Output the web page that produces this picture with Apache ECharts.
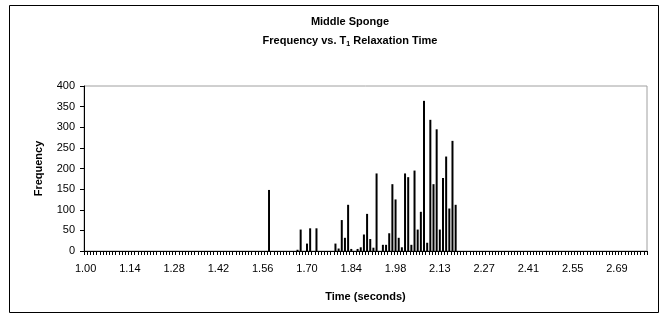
<!DOCTYPE html>
<html>
<head>
<meta charset="utf-8">
<script src="https://cdn.jsdelivr.net/npm/echarts@6/dist/echarts.min.js"></script>
<style>
  html, body { margin: 0; padding: 0; background: #fff; }
  #chart { width: 665px; height: 320px; }
</style>
</head>
<body>
<div id="chart"></div>
<script>
// bins of T1 relaxation time (s); a label is shown on every 14th bin
const binCount = 178;
const binStart = 1.0;
const binStep = 0.010048;
const timeBins = [];
for (let i = 0; i < binCount; i++) timeBins.push((binStart + i * binStep).toFixed(2));

// frequency per bin (non-zero bins only)
const peakBins = [58, 67, 68, 70, 71, 73,
  79, 80, 81, 82, 83, 84,
  86, 87, 88, 89, 90, 91, 92,
  94, 95,
  96, 97, 98, 99, 100, 101, 102, 103, 104, 105, 106,
  107, 108, 109, 110, 111, 112, 113, 114, 115, 116, 117];
const peakFreq = [148, 3, 52, 18, 55, 55,
  18, 6, 75, 32, 112, 5,
  5, 9, 40, 90, 29, 8, 188,
  15, 15,
  43, 162, 125, 32, 9, 188, 179, 15, 195, 52, 95,
  364, 20, 318, 162, 295, 52, 177, 229, 103, 267, 112];

const yTicks = { min: 0, max: 400, step: 50 };

const freq = timeBins.map(() => 0);
peakBins.forEach((b, k) => { freq[b] = peakFreq[k]; });

const chart = echarts.init(document.getElementById('chart'));
const font = 'Liberation Sans, Arial, sans-serif';

chart.setOption({
  animation: false,
  graphic: [
    {
      type: 'rect',
      shape: { x: 9.5, y: 5.5, width: 649, height: 307 },
      style: { fill: 'none', stroke: '#000', lineWidth: 1 },
      silent: true
    },
    {
      type: 'text',
      x: 350, y: 22,
      style: {
        text: 'Middle Sponge',
        font: 'bold 11px ' + font,
        fill: '#000',
        align: 'center',
        verticalAlign: 'middle'
      },
      silent: true
    },
    {
      type: 'text',
      x: 350, y: 41,
      style: {
        text: '{b|Frequency vs. T}{s|1}{b| Relaxation Time}',
        align: 'center',
        verticalAlign: 'middle',
        rich: {
          b: { font: 'bold 11px ' + font, fill: '#000', lineHeight: 14 },
          s: { font: 'bold 7px ' + font, fill: '#000', lineHeight: 14, verticalAlign: 'bottom', padding: [5, 0, 0, 0] }
        }
      },
      silent: true
    }
  ],
  grid: {
    left: 84, right: 18, top: 86, bottom: 69,
    show: true, borderColor: '#a0a0a0', borderWidth: 1
  },
  xAxis: {
    type: 'category',
    data: timeBins,
    name: 'Time (seconds)',
    nameLocation: 'middle',
    nameGap: 40,
    nameTextStyle: { fontFamily: font, fontSize: 11, fontWeight: 'bold', color: '#000' },
    axisLine: { lineStyle: { color: '#000', width: 1 } },
    axisTick: { show: true, interval: 0, length: 4, lineStyle: { color: '#000', width: 1 } },
    axisLabel: { interval: 13, fontFamily: font, fontSize: 11, color: '#000', margin: 12 }
  },
  yAxis: {
    type: 'value',
    min: yTicks.min,
    max: yTicks.max,
    interval: yTicks.step,
    name: 'Frequency',
    nameLocation: 'middle',
    nameRotate: 90,
    nameGap: 40,
    nameTextStyle: { fontFamily: font, fontSize: 11, fontWeight: 'bold', color: '#000' },
    axisLine: { show: true, lineStyle: { color: '#000', width: 1 } },
    axisTick: { show: true, length: 4, lineStyle: { color: '#000' } },
    axisLabel: { fontFamily: font, fontSize: 11, color: '#000', margin: 9 },
    splitLine: { show: false }
  },
  series: [{
    type: 'bar',
    data: freq,
    barWidth: 2,
    itemStyle: { color: '#000' }
  }]
});
</script>
</body>
</html>
